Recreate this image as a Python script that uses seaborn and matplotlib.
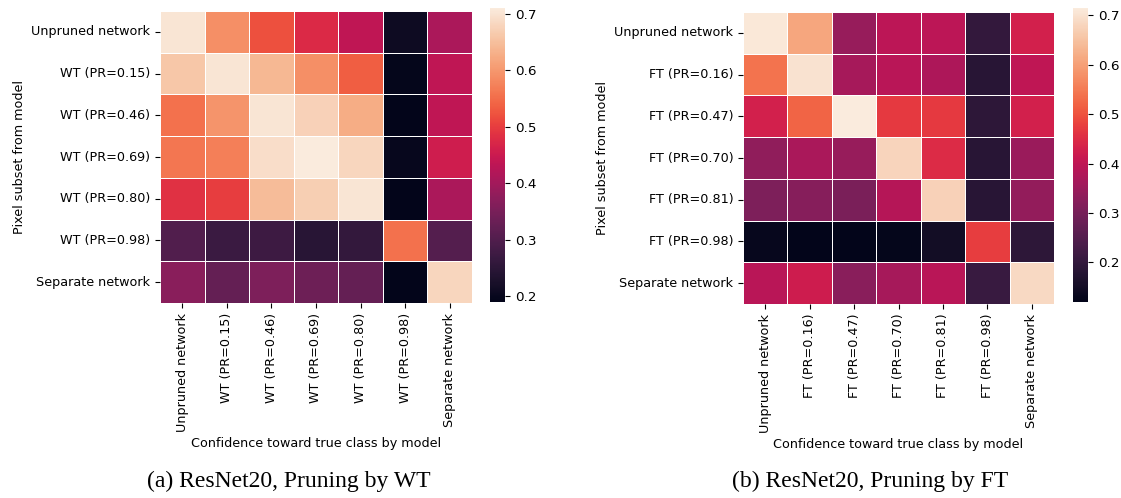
import numpy as np
import pandas as pd
import matplotlib
matplotlib.use("Agg")
import matplotlib.pyplot as plt
import seaborn as sns

wt_labels = ["Unpruned network", "WT (PR=0.15)", "WT (PR=0.46)", "WT (PR=0.69)",
             "WT (PR=0.80)", "WT (PR=0.98)", "Separate network"]
ft_labels = ["Unpruned network", "FT (PR=0.16)", "FT (PR=0.47)", "FT (PR=0.70)",
             "FT (PR=0.81)", "FT (PR=0.98)", "Separate network"]

wt_unpruned = [0.70, 0.59, 0.52, 0.475, 0.435, 0.21, 0.41]
wt_015 = [0.66, 0.70, 0.64, 0.59, 0.535, 0.195, 0.435]
wt_046 = [0.555, 0.595, 0.70, 0.675, 0.625, 0.19, 0.435]
wt_069 = [0.56, 0.57, 0.69, 0.71, 0.68, 0.20, 0.455]
wt_080 = [0.485, 0.50, 0.645, 0.67, 0.70, 0.19, 0.41]
wt_098 = [0.30, 0.27, 0.275, 0.245, 0.26, 0.555, 0.305]
wt_separate = [0.37, 0.325, 0.355, 0.335, 0.325, 0.19, 0.68]

ft_unpruned = [0.71, 0.61, 0.345, 0.395, 0.395, 0.20, 0.43]
ft_016 = [0.54, 0.70, 0.365, 0.39, 0.375, 0.185, 0.40]
ft_047 = [0.43, 0.52, 0.715, 0.47, 0.47, 0.19, 0.43]
ft_070 = [0.335, 0.37, 0.345, 0.68, 0.45, 0.185, 0.35]
ft_081 = [0.31, 0.32, 0.305, 0.385, 0.675, 0.185, 0.34]
ft_098 = [0.13, 0.12, 0.12, 0.125, 0.15, 0.475, 0.19]
ft_separate = [0.39, 0.42, 0.325, 0.365, 0.39, 0.21, 0.685]

wt_df = pd.DataFrame([wt_unpruned, wt_015, wt_046, wt_069, wt_080, wt_098, wt_separate],
                     index=wt_labels, columns=wt_labels)
ft_df = pd.DataFrame([ft_unpruned, ft_016, ft_047, ft_070, ft_081, ft_098, ft_separate],
                     index=ft_labels, columns=ft_labels)

W, H = 1121, 498
fig = plt.figure(figsize=(W / 100, H / 100), dpi=100)

def box(x0, y0, x1, y1):
    return [x0 / W, 1 - y1 / H, (x1 - x0) / W, (y1 - y0) / H]

ax1 = fig.add_axes(box(160, 11, 472, 303))
cax1 = fig.add_axes(box(490, 8, 505, 302))
ax2 = fig.add_axes(box(743, 12, 1054, 304))
cax2 = fig.add_axes(box(1073, 8, 1088, 302))

FS = 9.2
for ax, cax, df in [(ax1, cax1, wt_df), (ax2, cax2, ft_df)]:
    sns.heatmap(df, ax=ax, cbar_ax=cax, cmap="rocket", linewidths=0.5, linecolor="white")
    ax.set_xlabel("Confidence toward true class by model", fontsize=FS)
    ax.set_ylabel("Pixel subset from model", fontsize=FS)
    ax.tick_params(axis="both", labelsize=FS)
    plt.setp(ax.get_xticklabels(), rotation=90)
    plt.setp(ax.get_yticklabels(), rotation=0)
    cax.tick_params(labelsize=FS + 0.5)

fig.text(289 / W, 1 - 481 / H, "(a) ResNet20, Pruning by WT", ha="center", va="center",
         family="Liberation Serif", fontsize=17)
fig.text(870 / W, 1 - 481 / H, "(b) ResNet20, Pruning by FT", ha="center", va="center",
         family="Liberation Serif", fontsize=17)

fig.savefig("out.png", dpi=100)
